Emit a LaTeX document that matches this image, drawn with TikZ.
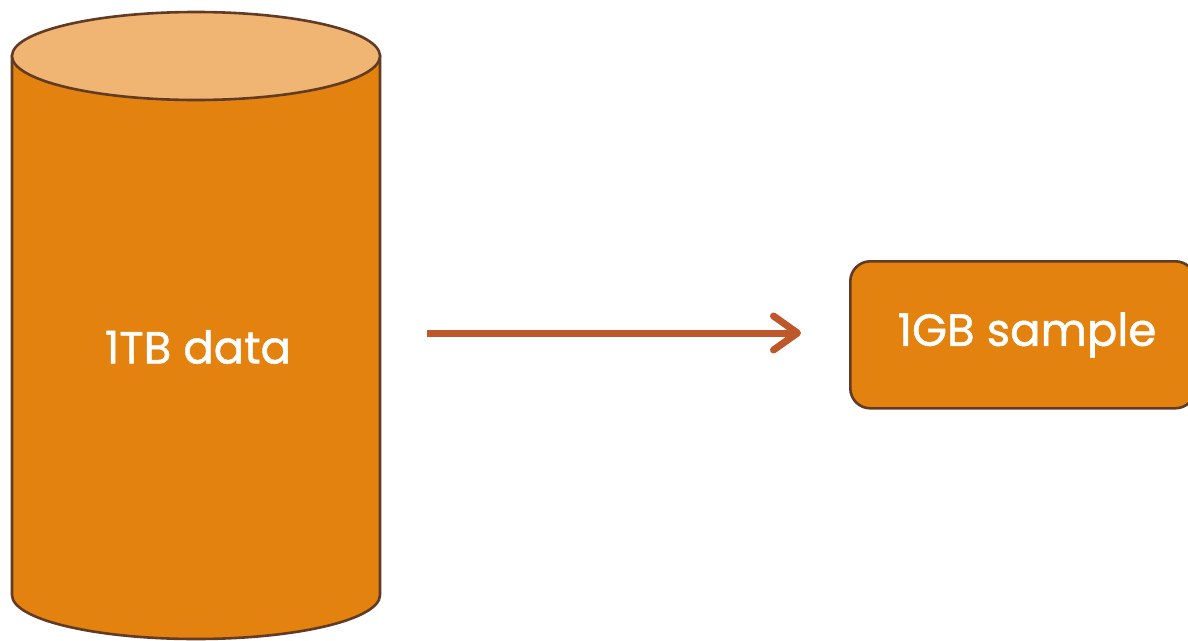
\documentclass[tikz,border=0pt]{standalone}
\usepackage{fontspec}
\setmainfont{Poppins}[FakeBold=1.2]
\usetikzlibrary{arrows.meta}
\definecolor{body}{HTML}{E4820F}
\definecolor{topc}{HTML}{F0B572}
\definecolor{edge}{HTML}{623B25}
\definecolor{arr}{HTML}{BE582A}
\tikzset{
  edgeline/.style={draw=edge, line width=2.6pt},
  lbl/.style={text=white, font=\fontsize{45}{50}\selectfont, inner sep=0pt},
  flow/.style={draw=arr, line width=7pt, -{Straight Barb[length=24pt,width=34pt,round]}}
}
\begin{document}
\begin{tikzpicture}[x=1pt,y=-1pt]
\useasboundingbox (0,0) rectangle (1188,640);
% cylinder body
\path[fill=body, edgeline] (12,56) -- (12,595) arc[start angle=180, end angle=0, x radius=184, y radius=44] -- (380,56) -- cycle;
\path[fill=topc, edgeline] (196,56) ellipse[x radius=184, y radius=44];
\node[lbl] (data) at (198,347) {1TB data};
% sample box
\node[fill=body, edgeline, rounded corners=20pt, minimum width=345pt, minimum height=147pt, anchor=north west] (box) at (849,260) {};
\node[lbl] (sample) at (1027,335) {1GB sample};
% arrow
\coordinate (a0) at (427,333);
\coordinate (a1) at (801,333);
\draw[flow] (a0) -- (a1);
\end{tikzpicture}
\end{document}
